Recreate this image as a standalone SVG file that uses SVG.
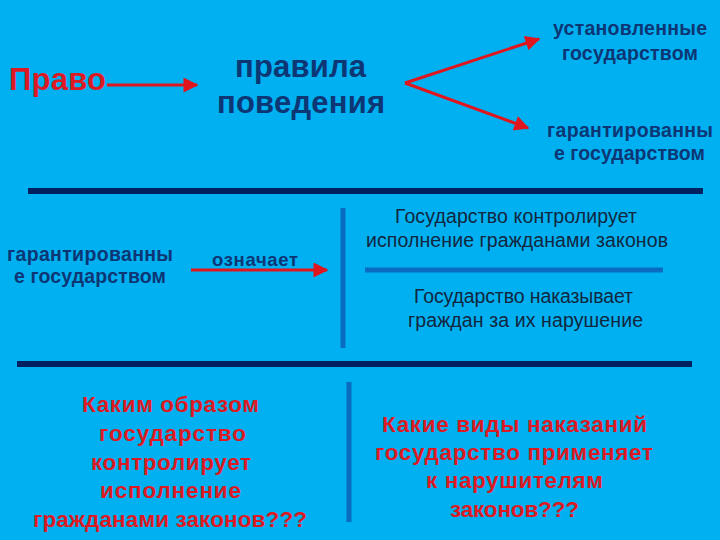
<svg xmlns="http://www.w3.org/2000/svg" width="720" height="540" viewBox="0 0 720 540">
<style>
.b{font-family:"Liberation Sans",Arial,sans-serif;font-weight:bold;text-anchor:middle}
.n{fill:#0d3675}
.r{fill:#dc1a24}
.t{font-family:"Liberation Sans",Arial,sans-serif;font-size:19.5px;fill:#12263f;text-anchor:middle}
.ar{stroke:#e0161e;stroke-width:3;fill:none;marker-end:url(#ah)}
.thick{stroke:#002060;stroke-width:6}
.thin{stroke:#0a6cc0;stroke-width:5}
</style>
<defs>
<marker id="ah" viewBox="0 0 10 10" refX="9" refY="5" markerWidth="6" markerHeight="5" orient="auto" markerUnits="strokeWidth">
<path d="M0,0 L10,5 L0,10 z" fill="#e0161e"/>
</marker>
</defs>
<rect width="720" height="540" fill="#00b0f0"/>
<g id="connectors">
<line class="ar" x1="107" y1="85" x2="197" y2="85"/>
<line class="ar" x1="405" y1="83" x2="539" y2="39"/>
<line class="ar" x1="405" y1="83" x2="528" y2="128"/>
<line class="ar" x1="191" y1="270" x2="327" y2="270"/>
</g>
<g id="lines">
<line class="thick" x1="28" y1="191" x2="703" y2="191"/>
<line class="thick" x1="17" y1="364" x2="692" y2="364"/>
<line class="thin" x1="343" y1="208" x2="343" y2="348"/>
<line class="thin" x1="365" y1="270" x2="663" y2="270"/>
<line class="thin" x1="349" y1="382" x2="349" y2="522"/>
</g>
<g id="pravo"><text class="b r" x="57.5" y="90" font-size="31" textLength="97">Право</text></g>
<g id="pravila"><text class="b n" x="300.5" y="77" font-size="31" textLength="131">правила</text><text class="b n" x="301" y="113" font-size="31" textLength="168">поведения</text></g>
<g id="ustanovl"><text class="b n" x="630" y="35" font-size="19.5" textLength="154">установленные</text><text class="b n" x="630" y="60" font-size="19.5" textLength="136">государством</text></g>
<g id="garant1"><text class="b n" x="630" y="137" font-size="19.5" textLength="166">гарантированны</text><text class="b n" x="629.5" y="160" font-size="19.5" textLength="151">е государством</text></g>
<g id="garant2"><text class="b n" x="90" y="261" font-size="19.5" textLength="166">гарантированны</text><text class="b n" x="90" y="283" font-size="19.5" textLength="152">е государством</text></g>
<g id="oznachaet"><text class="b n" x="255" y="266" font-size="18.5" textLength="86">означает</text></g>
<g id="kontrol"><text class="t" x="516" y="223" textLength="242">Государство контролирует</text><text class="t" x="517" y="247" textLength="302">исполнение гражданами законов</text></g>
<g id="nakaz"><text class="t" x="523.5" y="303" textLength="219">Государство наказывает</text><text class="t" x="525.5" y="327" textLength="235">граждан за их нарушение</text></g>
<g id="q1">
<text class="b r" x="170.5" y="412" font-size="22.5" textLength="177">Каким образом</text>
<text class="b r" x="172.5" y="441" font-size="22.5" textLength="147">государство</text>
<text class="b r" x="171" y="470" font-size="22.5" textLength="160">контролирует</text>
<text class="b r" x="170.5" y="498" font-size="22.5" textLength="141">исполнение</text>
<text class="b r" x="170" y="527" font-size="22.5" textLength="274">гражданами законов???</text>
</g>
<g id="q2">
<text class="b r" x="514.5" y="432" font-size="22.5" textLength="265">Какие виды наказаний</text>
<text class="b r" x="514" y="460" font-size="22.5" textLength="278">государство применяет</text>
<text class="b r" x="514.5" y="488" font-size="22.5" textLength="177">к нарушителям</text>
<text class="b r" x="514.5" y="517" font-size="22.5" textLength="129">законов???</text>
</g>
</svg>
